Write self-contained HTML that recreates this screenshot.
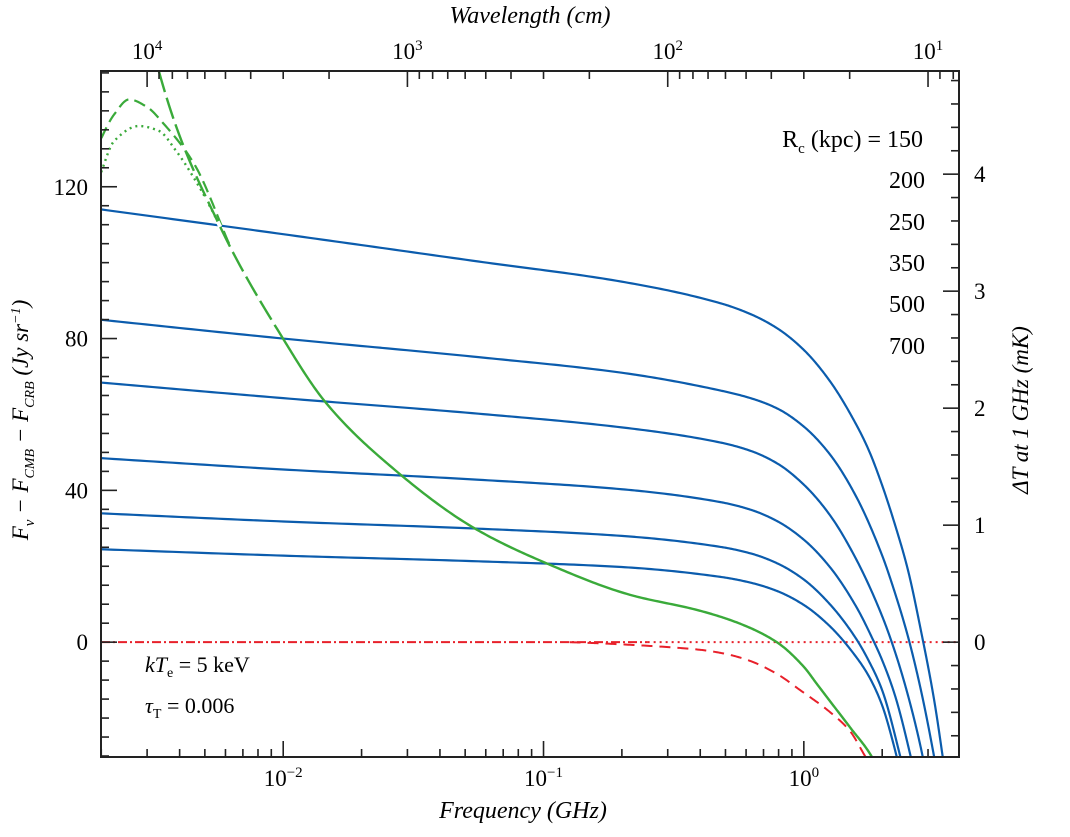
<!DOCTYPE html>
<html><head><meta charset="utf-8"><style>
html,body{margin:0;padding:0;background:#fff;}
svg{display:block;font-family:"Liberation Serif",serif;}
</style></head><body>
<svg id="chart" width="1070" height="837" viewBox="0 0 1070 837" xmlns="http://www.w3.org/2000/svg">
<defs><clipPath id="clip"><rect x="101" y="71" width="858" height="686"/></clipPath></defs>
<g id="plot" clip-path="url(#clip)"></g>
<rect x="101" y="71" width="858" height="686" fill="none" stroke="#222" stroke-width="2"/>
<g id="axes"></g>
<text x="523" y="818" font-size="24" font-style="italic" text-anchor="middle">Frequency (GHz)</text>
<text x="530" y="23" font-size="24" font-style="italic" text-anchor="middle">Wavelength (cm)</text>
<text transform="translate(28,420) rotate(-90)" font-size="23" font-style="italic" text-anchor="middle">F<tspan font-size="15" dy="6">ν</tspan><tspan dy="-6"> − F</tspan><tspan font-size="14" dy="6">CMB</tspan><tspan dy="-6"> − F</tspan><tspan font-size="14" dy="6">CRB</tspan><tspan dy="-6"> (Jy sr</tspan><tspan font-size="14" dy="-8">−1</tspan><tspan dy="8">)</tspan></text>
<text transform="translate(1028,410) rotate(-90)" font-size="23" font-style="italic" text-anchor="middle">ΔT at 1 GHz (mK)</text>
<g font-size="24" text-anchor="end">
<text x="923" y="147">R<tspan font-size="15" dy="6">c</tspan><tspan dy="-6"> (kpc) = 150</tspan></text>
<text x="925" y="188">200</text>
<text x="925" y="230">250</text>
<text x="925" y="271">350</text>
<text x="925" y="312">500</text>
<text x="925" y="354">700</text>
</g>
<text x="145" y="672" font-size="22"><tspan font-style="italic">kT</tspan><tspan font-size="14" dy="5">e</tspan><tspan dy="-5"> = 5  keV</tspan></text>
<text x="145" y="713" font-size="22"><tspan font-style="italic">τ</tspan><tspan font-size="14" dy="5">T</tspan><tspan dy="-5"> = 0.006</tspan></text>
</svg>
<script>
// x values are log10(frequency / GHz)
const blueLogNu = [-2.75,-2,-1.25,-0.7,-0.32,-0.2,-0.1,0,0.1,0.2,0.25,0.3,0.35,0.4,0.45,0.5,0.55];
const blue150 = [114.5,107.5,100.3,95,89.3,86.3,82.6,77,68.8,57.5,50.5,41.5,31,19,3,-15,-38];
const blueLogNu2 = [-2.75,-2,-1.25,-0.7,-0.32,-0.2,-0.1,0,0.1,0.2,0.3,0.35,0.4,0.45,0.5,0.55];
const blue200 = [85.3,80,75.1,71,66.3,64.2,61.5,56.8,49.5,38.5,23,13,1.5,-12.7,-30,-50];
const blueLogNu3 = [-2.75,-2,-1.25,-0.7,-0.32,-0.2,-0.1,0,0.1,0.2,0.3,0.35,0.4,0.45,0.5];
const blue250 = [68.7,64.3,60.2,56.6,52.6,50.3,47,41.5,33.5,22,7,-2.5,-14,-28,-46];
const blueLogNu4 = [-2.75,-2,-1.25,-0.7,-0.32,-0.2,-0.1,0,0.1,0.2,0.27,0.3,0.35,0.41,0.46];
const blue350 = [48.7,45.5,42.8,40.3,36.9,34.8,31.8,27,19.8,9.5,0,-4.6,-14,-30,-46];
const blueLogNu5 = [-2.75,-2,-1.25,-0.7,-0.32,-0.2,-0.1,0,0.1,0.2,0.25,0.3,0.37,0.42];
const blue500 = [34.1,31.8,29.9,28,25.1,23.3,20.7,16.5,10,1,-5,-12.5,-30,-45];
const blueLogNu6 = [-2.75,-2,-1.25,-0.7,-0.32,-0.2,-0.1,0,0.1,0.2,0.25,0.3,0.345,0.39];
const blue700 = [24.6,22.8,21.3,19.8,17.2,15.6,13.4,9.8,4.2,-3.8,-9,-16.5,-27,-40];
const greenLogNu = [-2.52,-2.477,-2.246,-2.008,-1.835,-1.592,-1.265,-0.996,-0.669,-0.4,-0.25,-0.104,0,0.05,0.1,0.177,0.262,0.3];
const greenTotal = [165,150.3,110,80.8,63,46.6,30,21,12.5,8.3,5,0,-6.5,-11,-15.5,-22.4,-30.3,-36];
const greenDashLogNu = [-2.75,-2.704,-2.65,-2.592,-2.523,-2.458,-2.342,-2.208];
const greenDash = [124,132,139,143,141,136.5,126,105];
const greenDotLogNu = [-2.75,-2.704,-2.65,-2.554,-2.477,-2.412,-2.323,-2.208];
const greenDot = [115,123,132,136,134.7,129.5,120,105];
const redLogNu = [-0.9,-0.785,-0.59,-0.4,-0.3,-0.208,-0.1,-0.015,0.1,0.177,0.235,0.27];
const redSZ = [0,-0.3,-1,-2,-3.1,-4.9,-8.5,-12.6,-18.4,-23.4,-30,-34];
const yTicks = [0,40,80,120];
const dTTicks = [0,1,2,3,4];
const xTickExp = [-2,-1,0];
const wlTickExp = [4,3,2,1];

const X0=101,X1=959,Y0=71,Y1=757;
const LMIN=-2.7, LMAX=0.5961;
function xs(l){return X0+(l-LMIN)/(LMAX-LMIN)*(X1-X0);}
const YMIN=-30.26, YMAX=150.5;
function ys(v){return Y1-(v-YMIN)/(YMAX-YMIN)*(Y1-Y0);}
const PX_PER_MK=117;
function ysT(t){return ys(0)-t*PX_PER_MK;}

const NS="http://www.w3.org/2000/svg";
const plot=document.getElementById('plot');
const axes=document.getElementById('axes');
function pathFrom(lx,vy){
  const n=lx.length;const d=[],m=[];
  for(let i=0;i<n-1;i++)d.push((vy[i+1]-vy[i])/(lx[i+1]-lx[i]));
  m[0]=d[0];m[n-1]=d[n-2];
  for(let i=1;i<n-1;i++){
    if(d[i-1]*d[i]<=0)m[i]=0;
    else{const h0=lx[i]-lx[i-1],h1=lx[i+1]-lx[i];const w1=2*h1+h0,w2=h1+2*h0;m[i]=(w1+w2)/(w1/d[i-1]+w2/d[i]);}
  }
  let s="";
  for(let i=0;i<n-1;i++){
    const h=lx[i+1]-lx[i];const steps=30;
    for(let k=(i===0?0:1);k<=steps;k++){
      const t=k/steps;const t2=t*t,t3=t2*t;
      const v=(2*t3-3*t2+1)*vy[i]+(t3-2*t2+t)*h*m[i]+(-2*t3+3*t2)*vy[i+1]+(t3-t2)*h*m[i+1];
      const l=lx[i]+t*h;
      s+=(s?" L":"M")+xs(l).toFixed(2)+","+ys(v).toFixed(2);
    }
  }
  return s;
}
function addPath(parent,d,color,w,dash){
  const e=document.createElementNS(NS,'path');
  e.setAttribute('d',d);e.setAttribute('fill','none');e.setAttribute('stroke',color);
  e.setAttribute('stroke-width',w);e.setAttribute('stroke-linejoin','round');
  if(dash)e.setAttribute('stroke-dasharray',dash);
  parent.appendChild(e);return e;
}
const BLUE="#0b5cad",GREEN="#3aaa3a",RED="#e8202a";
let e=addPath(plot,"M"+xs(LMIN)+","+ys(0)+" L"+xs(-0.6)+","+ys(0),RED,2,"9,3,2,3");


e=addPath(plot,"M"+xs(-0.6)+","+ys(0)+" L"+xs(LMAX)+","+ys(0),RED,2,"2,4");


e=addPath(plot,pathFrom(redLogNu,redSZ),RED,2,"11,7");


const blues=[[blueLogNu,blue150,'150'],[blueLogNu2,blue200,'200'],[blueLogNu3,blue250,'250'],[blueLogNu4,blue350,'350'],[blueLogNu5,blue500,'500'],[blueLogNu6,blue700,'700']];
blues.forEach(b=>{
  const el=addPath(plot,pathFrom(b[0],b[1]),BLUE,2.2);
  
  
});
e=addPath(plot,pathFrom(greenDashLogNu,greenDash),GREEN,2.2,"12,6");


e=addPath(plot,pathFrom(greenDotLogNu,greenDot),GREEN,2.4,"2,4");


e=addPath(plot,pathFrom(greenLogNu,greenTotal),GREEN,2.4);


const gap=addPath(plot,pathFrom(greenLogNu.slice(0,4),greenTotal.slice(0,4)),"#fff",4,"0,22,6,0");



function line(x1,y1,x2,y2,name){
  const l=document.createElementNS(NS,'line');
  l.setAttribute('x1',x1);l.setAttribute('y1',y1);l.setAttribute('x2',x2);l.setAttribute('y2',y2);
  l.setAttribute('stroke','#222');l.setAttribute('stroke-width',1.6);
  
  
  axes.appendChild(l);
}
function text(x,y,html,anchor,name,size){
  const t=document.createElementNS(NS,'text');
  t.setAttribute('x',x);t.setAttribute('y',y);t.setAttribute('text-anchor',anchor);
  t.setAttribute('font-size',size||22);t.innerHTML=html;
  
  
  axes.appendChild(t);
}
for(let d=-3;d<=0;d++){for(let m=1;m<=9;m++){
  const l=d+Math.log10(m); if(l<LMIN||l>LMAX)continue;
  const x=xs(l);const len=m===1?16:8;
  line(x,Y1,x,Y1-len,'x-tick');
}}
xTickExp.forEach(ex=>{
  text(xs(ex),786,'10<tspan font-size="15" dy="-9">'+(ex<0?'−'+(-ex):ex)+'</tspan>','middle','x-tick-label-'+ex,23);
});
for(let d=0;d<=4;d++){for(let m=1;m<=9;m++){
  const lam=m*Math.pow(10,d);const l=Math.log10(30/lam);
  if(l<LMIN||l>LMAX)continue;
  const x=xs(l);const len=m===1?16:8;
  line(x,Y0,x,Y0+len,'top-tick');
}}
wlTickExp.forEach(ex=>{
  text(xs(Math.log10(30/Math.pow(10,ex))),59,'10<tspan font-size="15" dy="-9">'+ex+'</tspan>','middle','top-tick-label-'+ex,23);
});
for(let v=-30;v<=150;v+=5){
  const y=ys(v);const major=v%40===0;
  line(X0,y,X0+(major?16:8),y,'y-tick');
}
yTicks.forEach(v=>text(88,ys(v)+8,String(v),'end','y-tick-label-'+v,23));
for(let k=-4;k<=24;k++){
  const t=k*0.2;const y=ysT(t);if(y<Y0||y>Y1)continue;
  const major=k%5===0;
  line(X1,y,X1-(major?16:8),y,'right-tick');
}
dTTicks.forEach(t=>text(974,ysT(t)+8,String(t),'start','right-tick-label-'+t,23));
</script>
</body></html>
